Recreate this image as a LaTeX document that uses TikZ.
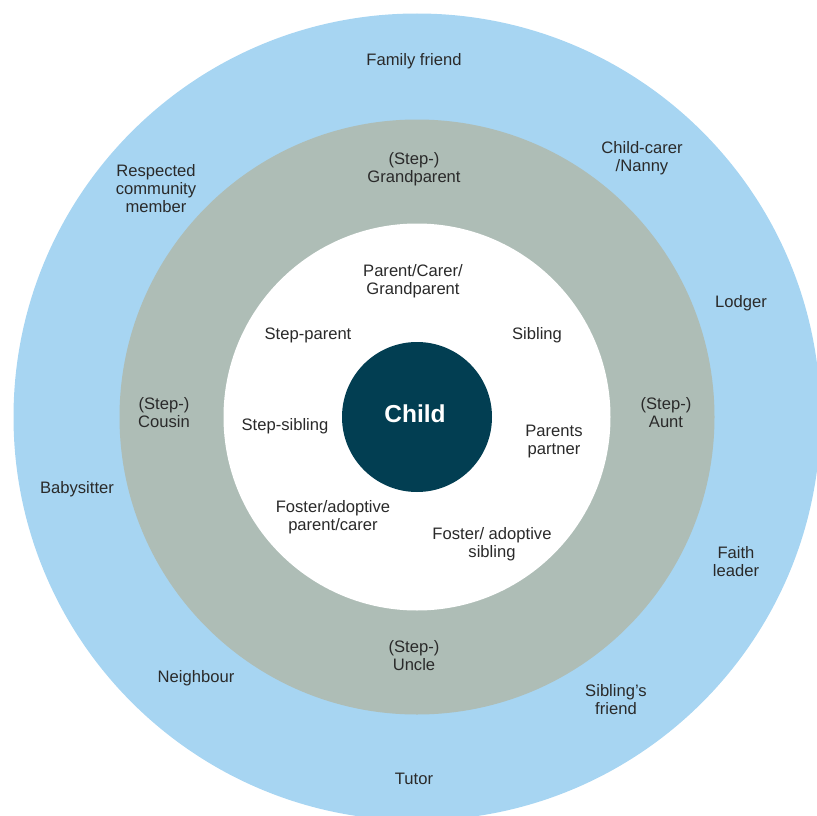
\documentclass[tikz,border=0pt]{standalone}
\usepackage{fontspec}
\setmainfont{Liberation Sans}
\usetikzlibrary{calc}
\definecolor{outerblue}{HTML}{A7D5F2}
\definecolor{midgrey}{HTML}{AEBDB6}
\definecolor{childteal}{HTML}{023E52}
\definecolor{labeltext}{HTML}{2A2A2A}
\tikzset{
  lbl/.style={align=center,text=labeltext,font=\fontsize{16.6}{18}\selectfont,inner sep=0pt},
  childnode/.style={circle,fill=childteal,minimum size=150pt}
}

\begin{document}
\begin{tikzpicture}[x=1pt,y=-1pt]
\useasboundingbox (0,0) rectangle (817,816);
% Centre of the rings
\coordinate (c) at (417,417);
% The three rings
\fill[outerblue] (c) circle (403.5);
\fill[midgrey] (c) circle (297.5);
\fill[white] (c) circle (193.5);
% The child in the middle
\node[childnode] (child) at (c) {};
\node[text=white,font=\fontsize{24.5}{26}\selectfont\bfseries] (childlbl) at (415,414) {Child};
% Inner ring
\node[lbl] (parent) at (413,281) {Parent/Carer/\\Grandparent};
\node[lbl] (stepparent) at (308,335) {Step-parent};
\node[lbl] (sibling) at (537,335) {Sibling};
\node[lbl] (stepsibling) at (285,426) {Step-sibling};
\node[lbl] (partner) at (554,442) {Parents\\partner};
\node[lbl] (fosterparent) at (333,517) {Foster/adoptive\\parent/carer};
\node[lbl] (fostersibling) at (492,544) {Foster/ adoptive\\sibling};
% Middle ring
\node[lbl] (grandparent) at (414,169) {(Step-)\\Grandparent};
\node[lbl] (cousin) at (164,413) {(Step-)\\Cousin};
\node[lbl] (aunt) at (666,413) {(Step-)\\Aunt};
\node[lbl] (uncle) at (414,656) {(Step-)\\Uncle};
% Outer ring
\node[lbl] (friend) at (414,61) {Family friend};
\node[lbl] (nanny) at (642,158) {Child-carer\\/Nanny};
\node[lbl] (community) at (156,189) {Respected\\community\\member};
\node[lbl] (lodger) at (741,303) {Lodger};
\node[lbl] (babysitter) at (77,489) {Babysitter};
\node[lbl] (faith) at (736,562) {Faith\\leader};
\node[lbl] (neighbour) at (196,678) {Neighbour};
\node[lbl] (siblingfriend) at (616,700) {Sibling’s\\friend};
\node[lbl] (tutor) at (414,779) {Tutor};
\end{tikzpicture}
\end{document}
